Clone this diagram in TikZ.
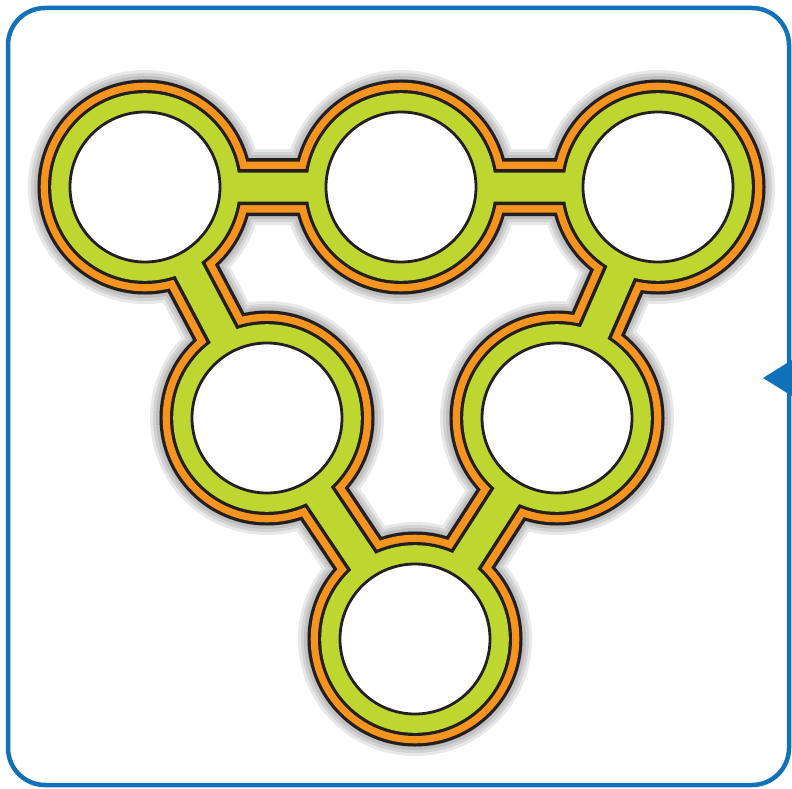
\documentclass[tikz,border=0pt]{standalone}
\definecolor{ringgreen}{RGB}{190,215,48}
\definecolor{ringorange}{RGB}{247,148,30}
\definecolor{frameblue}{RGB}{17,114,186}
\definecolor{inkline}{RGB}{35,31,32}

% one layer of the chain: colour, ring radius, bar width
\newcommand{\chainlayer}[3]{%
  \foreach \c in {top1,top2,top3,mid1,mid2,bot}
    \fill[#1] (\c) circle[radius=#2];
  \draw[#1,line width=#3] (top1) -- (top2) -- (top3) -- (mid2) -- (bot) -- (mid1) -- cycle;}

\begin{document}
\begin{tikzpicture}[x=1pt,y=-1pt,
  frame/.style={draw=frameblue,line width=4.5pt,rounded corners=37pt},
  pointer/.style={fill=frameblue},
  hole/.style={draw=inkline,fill=white,line width=2.8pt}]
\useasboundingbox (0,0) rectangle (792,789);
\clip (0,0) rectangle (792,789);

\coordinate (top1) at (145,187);
\coordinate (top2) at (401,187);
\coordinate (top3) at (658,187);
\coordinate (mid1) at (267,418);
\coordinate (mid2) at (557,418);
\coordinate (bot) at (415,639);

\draw[frame] (8,8) rectangle (789,785);
\fill[pointer] (763,378) -- (800,355) -- (800,401) -- cycle;

% soft shadow
\foreach \s in {10,7,4,1} {
  \begin{scope}[transparency group,opacity=0.09,shift={(0,5)}]
    \chainlayer{black}{107+\s}{56pt+2*\s pt}
  \end{scope}
}

\chainlayer{inkline}{107.5}{58pt}
\chainlayer{ringorange}{104.3}{51pt}
\chainlayer{inkline}{97}{36pt}
\chainlayer{ringgreen}{93.8}{29pt}

\foreach \c in {top1,top2,top3,mid1,mid2,bot}
  \draw[hole] (\c) circle[radius=75];

\end{tikzpicture}
\end{document}
